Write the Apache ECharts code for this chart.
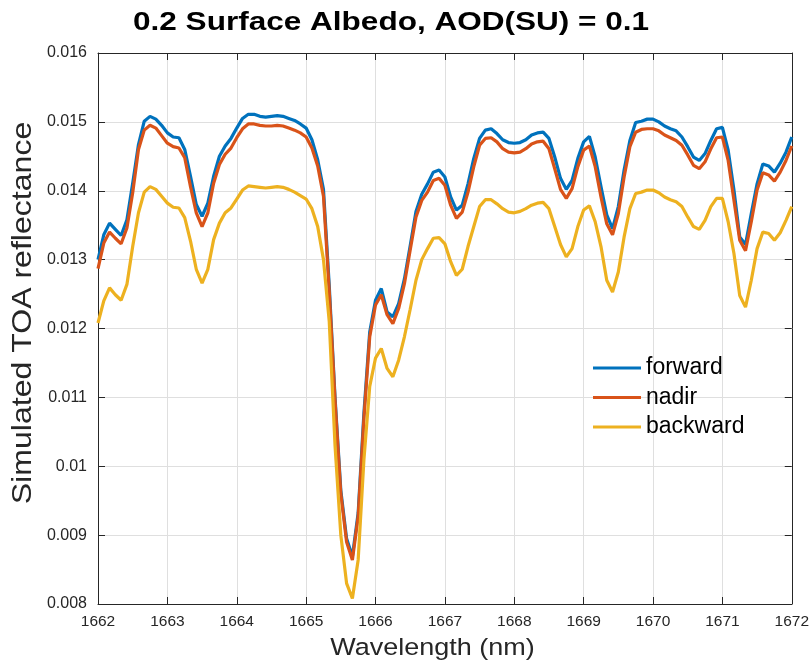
<!DOCTYPE html>
<html>
<head>
<meta charset="utf-8">
<title>0.2 Surface Albedo, AOD(SU) = 0.1</title>
<script src="https://cdn.jsdelivr.net/npm/echarts@6/dist/echarts.min.js"></script>
<style>
  html, body { margin: 0; padding: 0; background: #ffffff; }
  #chart { width: 812px; height: 663px; }
</style>
</head>
<body>
<div id="chart"></div>
<script>
// Spectral sampling grid (nm)
const WAVELENGTH_START = 1662;
const WAVELENGTH_STEP = 1 / 12;

// Simulated TOA reflectance for the three viewing geometries
const forward = [
  0.01300, 0.01336, 0.01353, 0.01344, 0.01335, 0.01358, 0.01411, 0.01467, 0.01501, 0.01508,
  0.01504, 0.01495, 0.01484, 0.01478, 0.01477, 0.01460, 0.01421, 0.01380, 0.01363, 0.01382,
  0.01421, 0.01450, 0.01465, 0.01476, 0.01491, 0.01505, 0.01511, 0.01511, 0.01508, 0.01507,
  0.01508, 0.01509, 0.01508, 0.01505, 0.01502, 0.01497, 0.01491, 0.01474, 0.01445, 0.01402,
  0.01262, 0.01100, 0.00965, 0.00895, 0.00869, 0.00932, 0.01078, 0.01195, 0.01241, 0.01258,
  0.01224, 0.01217, 0.01236, 0.01272, 0.01320, 0.01370, 0.01395, 0.01410, 0.01427, 0.01430,
  0.01420, 0.01391, 0.01372, 0.01379, 0.01410, 0.01447, 0.01476, 0.01488, 0.01490, 0.01483,
  0.01474, 0.01470, 0.01469, 0.01470, 0.01474, 0.01481, 0.01484, 0.01485, 0.01476, 0.01449,
  0.01418, 0.01402, 0.01415, 0.01447, 0.01471, 0.01479, 0.01449, 0.01406, 0.01365, 0.01345,
  0.01377, 0.01430, 0.01473, 0.01499, 0.01501, 0.01504, 0.01504, 0.01500, 0.01494, 0.01490,
  0.01487, 0.01478, 0.01464, 0.01449, 0.01444, 0.01454, 0.01473, 0.01490, 0.01492, 0.01459,
  0.01401, 0.01333, 0.01322, 0.01367, 0.01410, 0.01439, 0.01436, 0.01427, 0.01440, 0.01456,
  0.01478
];
const nadir = [
  0.01287, 0.01324, 0.01340, 0.01331, 0.01323, 0.01346, 0.01397, 0.01460, 0.01488, 0.01495,
  0.01491, 0.01480, 0.01469, 0.01464, 0.01462, 0.01448, 0.01406, 0.01368, 0.01348, 0.01368,
  0.01411, 0.01438, 0.01453, 0.01462, 0.01477, 0.01490, 0.01497, 0.01497, 0.01495, 0.01494,
  0.01494, 0.01495, 0.01494, 0.01491, 0.01488, 0.01484, 0.01478, 0.01462, 0.01436, 0.01392,
  0.01254, 0.01096, 0.00960, 0.00890, 0.00864, 0.00927, 0.01070, 0.01188, 0.01234, 0.01249,
  0.01220, 0.01207, 0.01229, 0.01265, 0.01314, 0.01362, 0.01386, 0.01398, 0.01415, 0.01418,
  0.01408, 0.01379, 0.01360, 0.01369, 0.01398, 0.01435, 0.01466, 0.01476, 0.01477, 0.01471,
  0.01461, 0.01456, 0.01455, 0.01456, 0.01461, 0.01468, 0.01471, 0.01472, 0.01461, 0.01432,
  0.01402, 0.01389, 0.01403, 0.01435, 0.01459, 0.01465, 0.01435, 0.01391, 0.01352, 0.01336,
  0.01367, 0.01420, 0.01464, 0.01485, 0.01489, 0.01490, 0.01490, 0.01487, 0.01481, 0.01477,
  0.01473, 0.01466, 0.01452, 0.01437, 0.01432, 0.01442, 0.01461, 0.01477, 0.01478, 0.01444,
  0.01386, 0.01328, 0.01313, 0.01355, 0.01401, 0.01426, 0.01423, 0.01414, 0.01427, 0.01444,
  0.01465
];
const backward = [
  0.01208, 0.01240, 0.01259, 0.01249, 0.01241, 0.01264, 0.01319, 0.01368, 0.01398, 0.01406,
  0.01402, 0.01392, 0.01382, 0.01376, 0.01375, 0.01361, 0.01327, 0.01286, 0.01266, 0.01286,
  0.01329, 0.01353, 0.01368, 0.01375, 0.01388, 0.01401, 0.01407, 0.01406, 0.01405, 0.01404,
  0.01405, 0.01406, 0.01405, 0.01402, 0.01398, 0.01393, 0.01388, 0.01374, 0.01348, 0.01300,
  0.01210, 0.01030, 0.00900, 0.00830, 0.00808, 0.00864, 0.01010, 0.01116, 0.01157, 0.01171,
  0.01142, 0.01130, 0.01154, 0.01188, 0.01228, 0.01270, 0.01300, 0.01316, 0.01331, 0.01332,
  0.01323, 0.01297, 0.01277, 0.01286, 0.01319, 0.01348, 0.01377, 0.01387, 0.01387, 0.01381,
  0.01374, 0.01369, 0.01368, 0.01370, 0.01374, 0.01379, 0.01382, 0.01383, 0.01374, 0.01348,
  0.01322, 0.01304, 0.01316, 0.01348, 0.01372, 0.01378, 0.01355, 0.01319, 0.01270, 0.01253,
  0.01282, 0.01333, 0.01374, 0.01396, 0.01398, 0.01401, 0.01401, 0.01397, 0.01391, 0.01387,
  0.01384, 0.01377, 0.01362, 0.01348, 0.01344, 0.01357, 0.01377, 0.01389, 0.01389, 0.01355,
  0.01309, 0.01248, 0.01231, 0.01270, 0.01316, 0.01340, 0.01338, 0.01328, 0.01339, 0.01357,
  0.01377
];

const seriesNames = ['forward', 'nadir', 'backward'];
const seriesColors = ['#0072BD', '#D95319', '#EDB120'];

// Axis ranges and tick labels
const X_MIN = 1662, X_MAX = 1672, X_STEP = 1;
const Y_MIN = 0.008, Y_MAX = 0.016, Y_STEP = 0.001;
const Y_TICK_LABELS = ['0.008', '0.009', '0.01', '0.011', '0.012', '0.013', '0.014', '0.015', '0.016'];

const FONT = '"Liberation Sans", Arial, Helvetica, sans-serif';
const AXIS_COLOR = '#262626';
const GRID_COLOR = '#dfdfdf';

function pairs(values) {
  return values.map((v, i) => [WAVELENGTH_START + i * WAVELENGTH_STEP, v]);
}

const chart = echarts.init(document.getElementById('chart'), null, { renderer: 'canvas' });

const baseX = {
  type: 'value', min: X_MIN, max: X_MAX, interval: X_STEP,
  axisLine: { show: true, onZero: false, lineStyle: { color: AXIS_COLOR, width: 1 } },
  axisTick: { show: true, inside: true, length: 7, lineStyle: { color: AXIS_COLOR, width: 1 } }
};
const baseY = {
  type: 'value', min: Y_MIN, max: Y_MAX, interval: Y_STEP,
  axisLine: { show: true, onZero: false, lineStyle: { color: AXIS_COLOR, width: 1 } },
  axisTick: { show: true, inside: true, length: 7, lineStyle: { color: AXIS_COLOR, width: 1 } }
};

chart.setOption({
  animation: false,
  backgroundColor: '#ffffff',
  grid: { left: 98, right: 15, top: 53, bottom: 59, containLabel: false },
  xAxis: [
    Object.assign({}, baseX, {
      position: 'bottom',
      splitLine: { show: true, lineStyle: { color: GRID_COLOR, width: 1 } },
      axisLabel: { show: true, margin: 10, color: AXIS_COLOR, fontFamily: FONT, fontSize: 15.5,
        formatter: v => String(Math.round(v)) }
    }),
    Object.assign({}, baseX, {
      position: 'top',
      splitLine: { show: false },
      axisLabel: { show: false }
    })
  ],
  yAxis: [
    Object.assign({}, baseY, {
      position: 'left',
      splitLine: { show: true, lineStyle: { color: GRID_COLOR, width: 1 } },
      axisLabel: { show: true, margin: 11, color: AXIS_COLOR, fontFamily: FONT, fontSize: 16,
        formatter: v => Y_TICK_LABELS[Math.round((v - Y_MIN) / Y_STEP)] }
    }),
    Object.assign({}, baseY, {
      position: 'right',
      splitLine: { show: false },
      axisLabel: { show: false }
    })
  ],
  legend: {
    orient: 'vertical',
    left: 593, top: 356,
    icon: 'rect',
    itemWidth: 48, itemHeight: 3, itemGap: 5.5,
    data: seriesNames,
    textStyle: { fontFamily: FONT, fontSize: 23, lineHeight: 24, color: '#000000', padding: [0, 0, 0, 0] },
    padding: 0
  },
  series: [forward, nadir, backward].map((values, k) => ({
    name: seriesNames[k],
    type: 'line',
    xAxisIndex: 0, yAxisIndex: 0,
    data: pairs(values),
    symbol: 'none',
    showSymbol: false,
    smooth: false,
    lineStyle: { color: seriesColors[k], width: 3.2 },
    itemStyle: { color: seriesColors[k] },
    z: 2 + k
  })),
  graphic: [
    {
      type: 'text', x: 133, y: 23, scaleX: 1.19,
      style: { text: '0.2 Surface Albedo, AOD(SU) = 0.1', fontFamily: FONT, fontWeight: 'bold',
        fontSize: 26.5, fill: '#000000', align: 'left', verticalAlign: 'middle' }
    },
    {
      type: 'text', x: 432.5, y: 648.5, scaleX: 1.14,
      style: { text: 'Wavelength (nm)', fontFamily: FONT, fontSize: 23.7, fill: '#262626',
        align: 'center', verticalAlign: 'middle' }
    },
    {
      type: 'text', x: 23, y: 313, rotation: Math.PI / 2, scaleX: 1.145,
      style: { text: 'Simulated TOA reflectance', fontFamily: FONT, fontSize: 28, fill: '#262626',
        align: 'center', verticalAlign: 'middle' }
    }
  ]
});
</script>
</body>
</html>
